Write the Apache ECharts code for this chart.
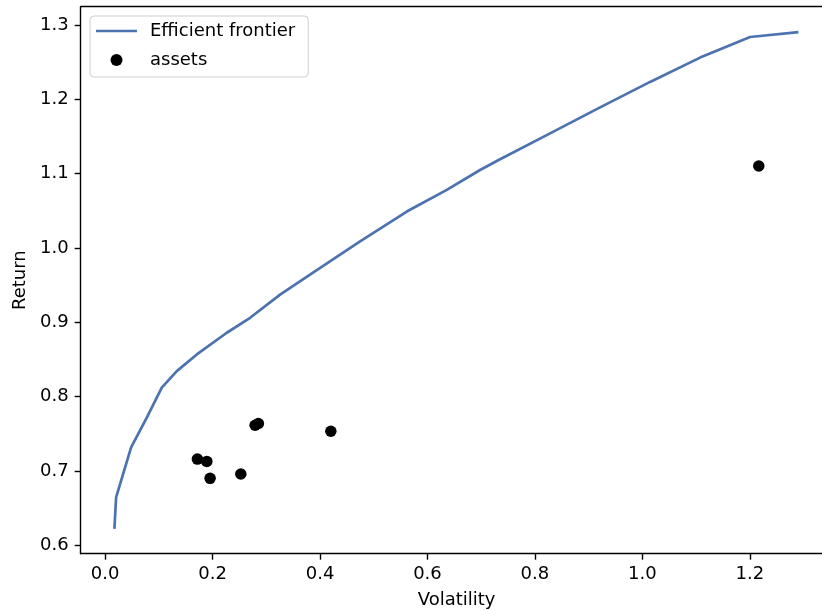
<!DOCTYPE html>
<html>
<head>
<meta charset="utf-8">
<script src="https://cdn.jsdelivr.net/npm/echarts@6/dist/echarts.min.js"></script>
<style>
  html, body { margin: 0; padding: 0; background: #fff; overflow: hidden; }
  #chart { width: 850px; height: 610px; }
</style>
</head>
<body>
<div id="chart"></div>
<script>
// efficient frontier
const frontierVol = [0.0173, 0.0205, 0.0484, 0.0776, 0.1055, 0.1334, 0.1707, 0.2265, 0.2699, 0.3257,
  0.3877, 0.4746, 0.5615, 0.6360, 0.6979, 0.7351, 0.8282, 0.9213, 1.0143, 1.1074, 1.2004, 1.2903]
const frontierRet = [0.6219, 0.6644, 0.7315, 0.7717, 0.8120, 0.8342, 0.8566, 0.8858, 0.9059, 0.9371,
  0.9671, 1.0086, 1.0489, 1.0780, 1.1048, 1.1192, 1.1541, 1.1890, 1.2233, 1.2560, 1.2837, 1.2904]

// single assets
const assetVol = [0.1718, 0.1893, 0.1954, 0.2526, 0.2792, 0.2853, 0.4201, 1.2166]
const assetRet = [0.7158, 0.7127, 0.6899, 0.6957, 0.7614, 0.7637, 0.7533, 1.1102]

const xTicks = [0.0, 0.2, 0.4, 0.6, 0.8, 1.0, 1.2]
const yTicks = [0.6, 0.7, 0.8, 0.9, 1.0, 1.1, 1.2, 1.3]

const fontFamily = 'DejaVu Sans'
const fontSize = 18
const lineColor = '#4c72b0'

const chart = echarts.init(document.getElementById('chart'))

const axisCommon = {
  type: 'value',
  nameLocation: 'middle',
  nameTextStyle: { color: '#000', fontFamily, fontSize },
  splitLine: { show: false },
  axisLine: { show: true, onZero: false, lineStyle: { color: '#000', width: 1.4 } },
  axisTick: { show: true, length: 6, lineStyle: { color: '#000', width: 1.4 } },
  axisLabel: {
    color: '#000',
    fontFamily,
    fontSize,
    margin: 12,
    formatter: v => v.toFixed(1)
  }
}

const xRange = { min: -0.0454, max: 1.354 }

chart.setOption({
  animation: false,
  backgroundColor: '#fff',
  textStyle: { fontFamily },
  grid: {
    left: 80.7,
    top: 6.7,
    bottom: 56.3,
    width: 751.9,
    outerBoundsMode: 'none',
    containLabel: false
  },
  legend: {
    orient: 'vertical',
    left: 90,
    top: 16,
    padding: [6, 13, 8, 6],
    itemGap: 11,
    itemWidth: 41,
    itemHeight: 12,
    align: 'left',
    backgroundColor: 'rgba(255,255,255,0.8)',
    borderColor: '#d0d0d0',
    borderWidth: 1,
    borderRadius: 4,
    textStyle: { color: '#000', fontFamily, fontSize, lineHeight: 18, padding: [0, 0, 0, 8] },
    data: [
      { name: 'Efficient frontier', icon: 'path://M0,0 L41,0 L41,2.7 L0,2.7 Z' },
      { name: 'assets', icon: 'circle' }
    ]
  },
  xAxis: [
    {
      ...axisCommon,
      ...xRange,
      name: 'Volatility',
      nameGap: 38,
      axisTick: { ...axisCommon.axisTick, customValues: xTicks },
      axisLabel: { ...axisCommon.axisLabel, customValues: xTicks }
    },
    {
      // top spine only
      ...axisCommon,
      ...xRange,
      position: 'top',
      name: '',
      axisTick: { show: false },
      axisLabel: { show: false }
    }
  ],
  yAxis: {
    ...axisCommon,
    name: 'Return',
    nameGap: 50,
    min: 0.5885,
    max: 1.3245,
    axisTick: { ...axisCommon.axisTick, customValues: yTicks },
    axisLabel: { ...axisCommon.axisLabel, customValues: yTicks }
  },
  series: [
    {
      name: 'Efficient frontier',
      type: 'line',
      symbol: 'none',
      color: lineColor,
      lineStyle: { color: lineColor, width: 2.7 },
      data: frontierVol.map((v, i) => [v, frontierRet[i]])
    },
    {
      name: 'assets',
      type: 'scatter',
      symbol: 'circle',
      symbolSize: 11.5,
      color: '#000',
      itemStyle: { color: '#000', opacity: 1 },
      data: assetVol.map((v, i) => [v, assetRet[i]])
    }
  ]
})
</script>
</body>
</html>
